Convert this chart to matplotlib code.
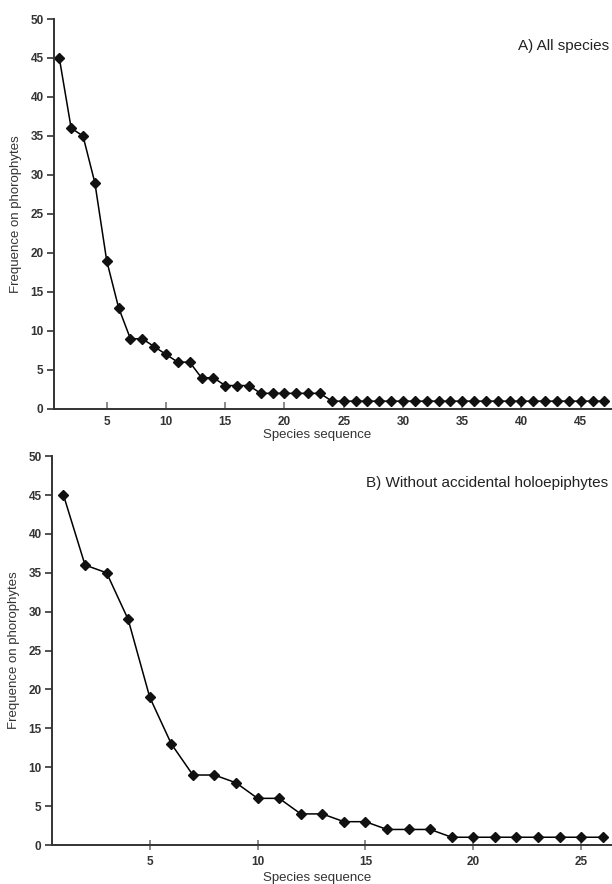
import matplotlib
matplotlib.use("Agg")
import matplotlib.pyplot as plt

plt.rcParams['font.family'] = ['Liberation Sans', 'DejaVu Sans']

# Panel A: all species
freq_all = [45, 36, 35, 29, 19, 13, 9, 9, 8, 7, 6, 6, 4, 4, 3, 3, 3,
            2, 2, 2, 2, 2, 2] + [1] * 24
seq_all = list(range(1, len(freq_all) + 1))

# Panel B: without accidental holoepiphytes
freq_noacc = [45, 36, 35, 29, 19, 13, 9, 9, 8, 6, 6, 4, 4, 3, 3,
              2, 2, 2] + [1] * 8
seq_noacc = list(range(1, len(freq_noacc) + 1))

panels = [
    (seq_all, freq_all, "A) All species", [0.0882, 0.5374, 0.911, 0.4411],
     (0.55, 47.6), list(range(5, 50, 5)), 'in', 5, (0.472, -0.067)),
    (seq_noacc, freq_noacc, "B) Without accidental holoepiphytes",
     [0.085, 0.0441, 0.914, 0.4399], (0.47, 26.4), list(range(5, 30, 5)),
     'inout', 4.5, (0.474, -0.085)),
]

fig = plt.figure(figsize=(6.12, 8.84), dpi=100)
for x, y, title, rect, xlim, xticks, xdir, xpad, xlab_pos in panels:
    ax = fig.add_axes(rect)
    ax.plot(x, y, color='black', lw=1.1, marker='D', markersize=5.5,
            markerfacecolor='#111111', markeredgecolor='#111111')
    ax.set_xlim(*xlim)
    ax.set_ylim(0, 50)
    ax.set_yticks(range(0, 55, 5))
    ax.set_xticks(xticks)
    for s in ['top', 'right']:
        ax.spines[s].set_visible(False)
    for s in ['left', 'bottom']:
        ax.spines[s].set_color('#333333')
        ax.spines[s].set_linewidth(1.4)
    ax.tick_params(axis='y', direction='out', length=5, width=1.2,
                   color='#333333', labelsize=8.5, pad=2.5)
    ax.tick_params(axis='x', direction=xdir, length=5 if xdir == 'in' else 7,
                   width=1.2, color='#777777', labelsize=8.5, pad=xpad)
    for lab in ax.get_xticklabels() + ax.get_yticklabels():
        lab.set_fontweight('bold')
        lab.set_color('#333333')
    ax.set_ylabel("Frequence on phorophytes", fontsize=9.5, color='#333333',
                  labelpad=6)
    ax.set_xlabel("Species sequence", fontsize=9.5, color='#333333')
    ax.xaxis.set_label_coords(*xlab_pos)
    ax.xaxis.label.set_va('center')
    ax.text(0.995, 0.93, title, transform=ax.transAxes, ha='right',
            va='center', fontsize=11, color='#222222')

fig.savefig("out.png", dpi=100)
